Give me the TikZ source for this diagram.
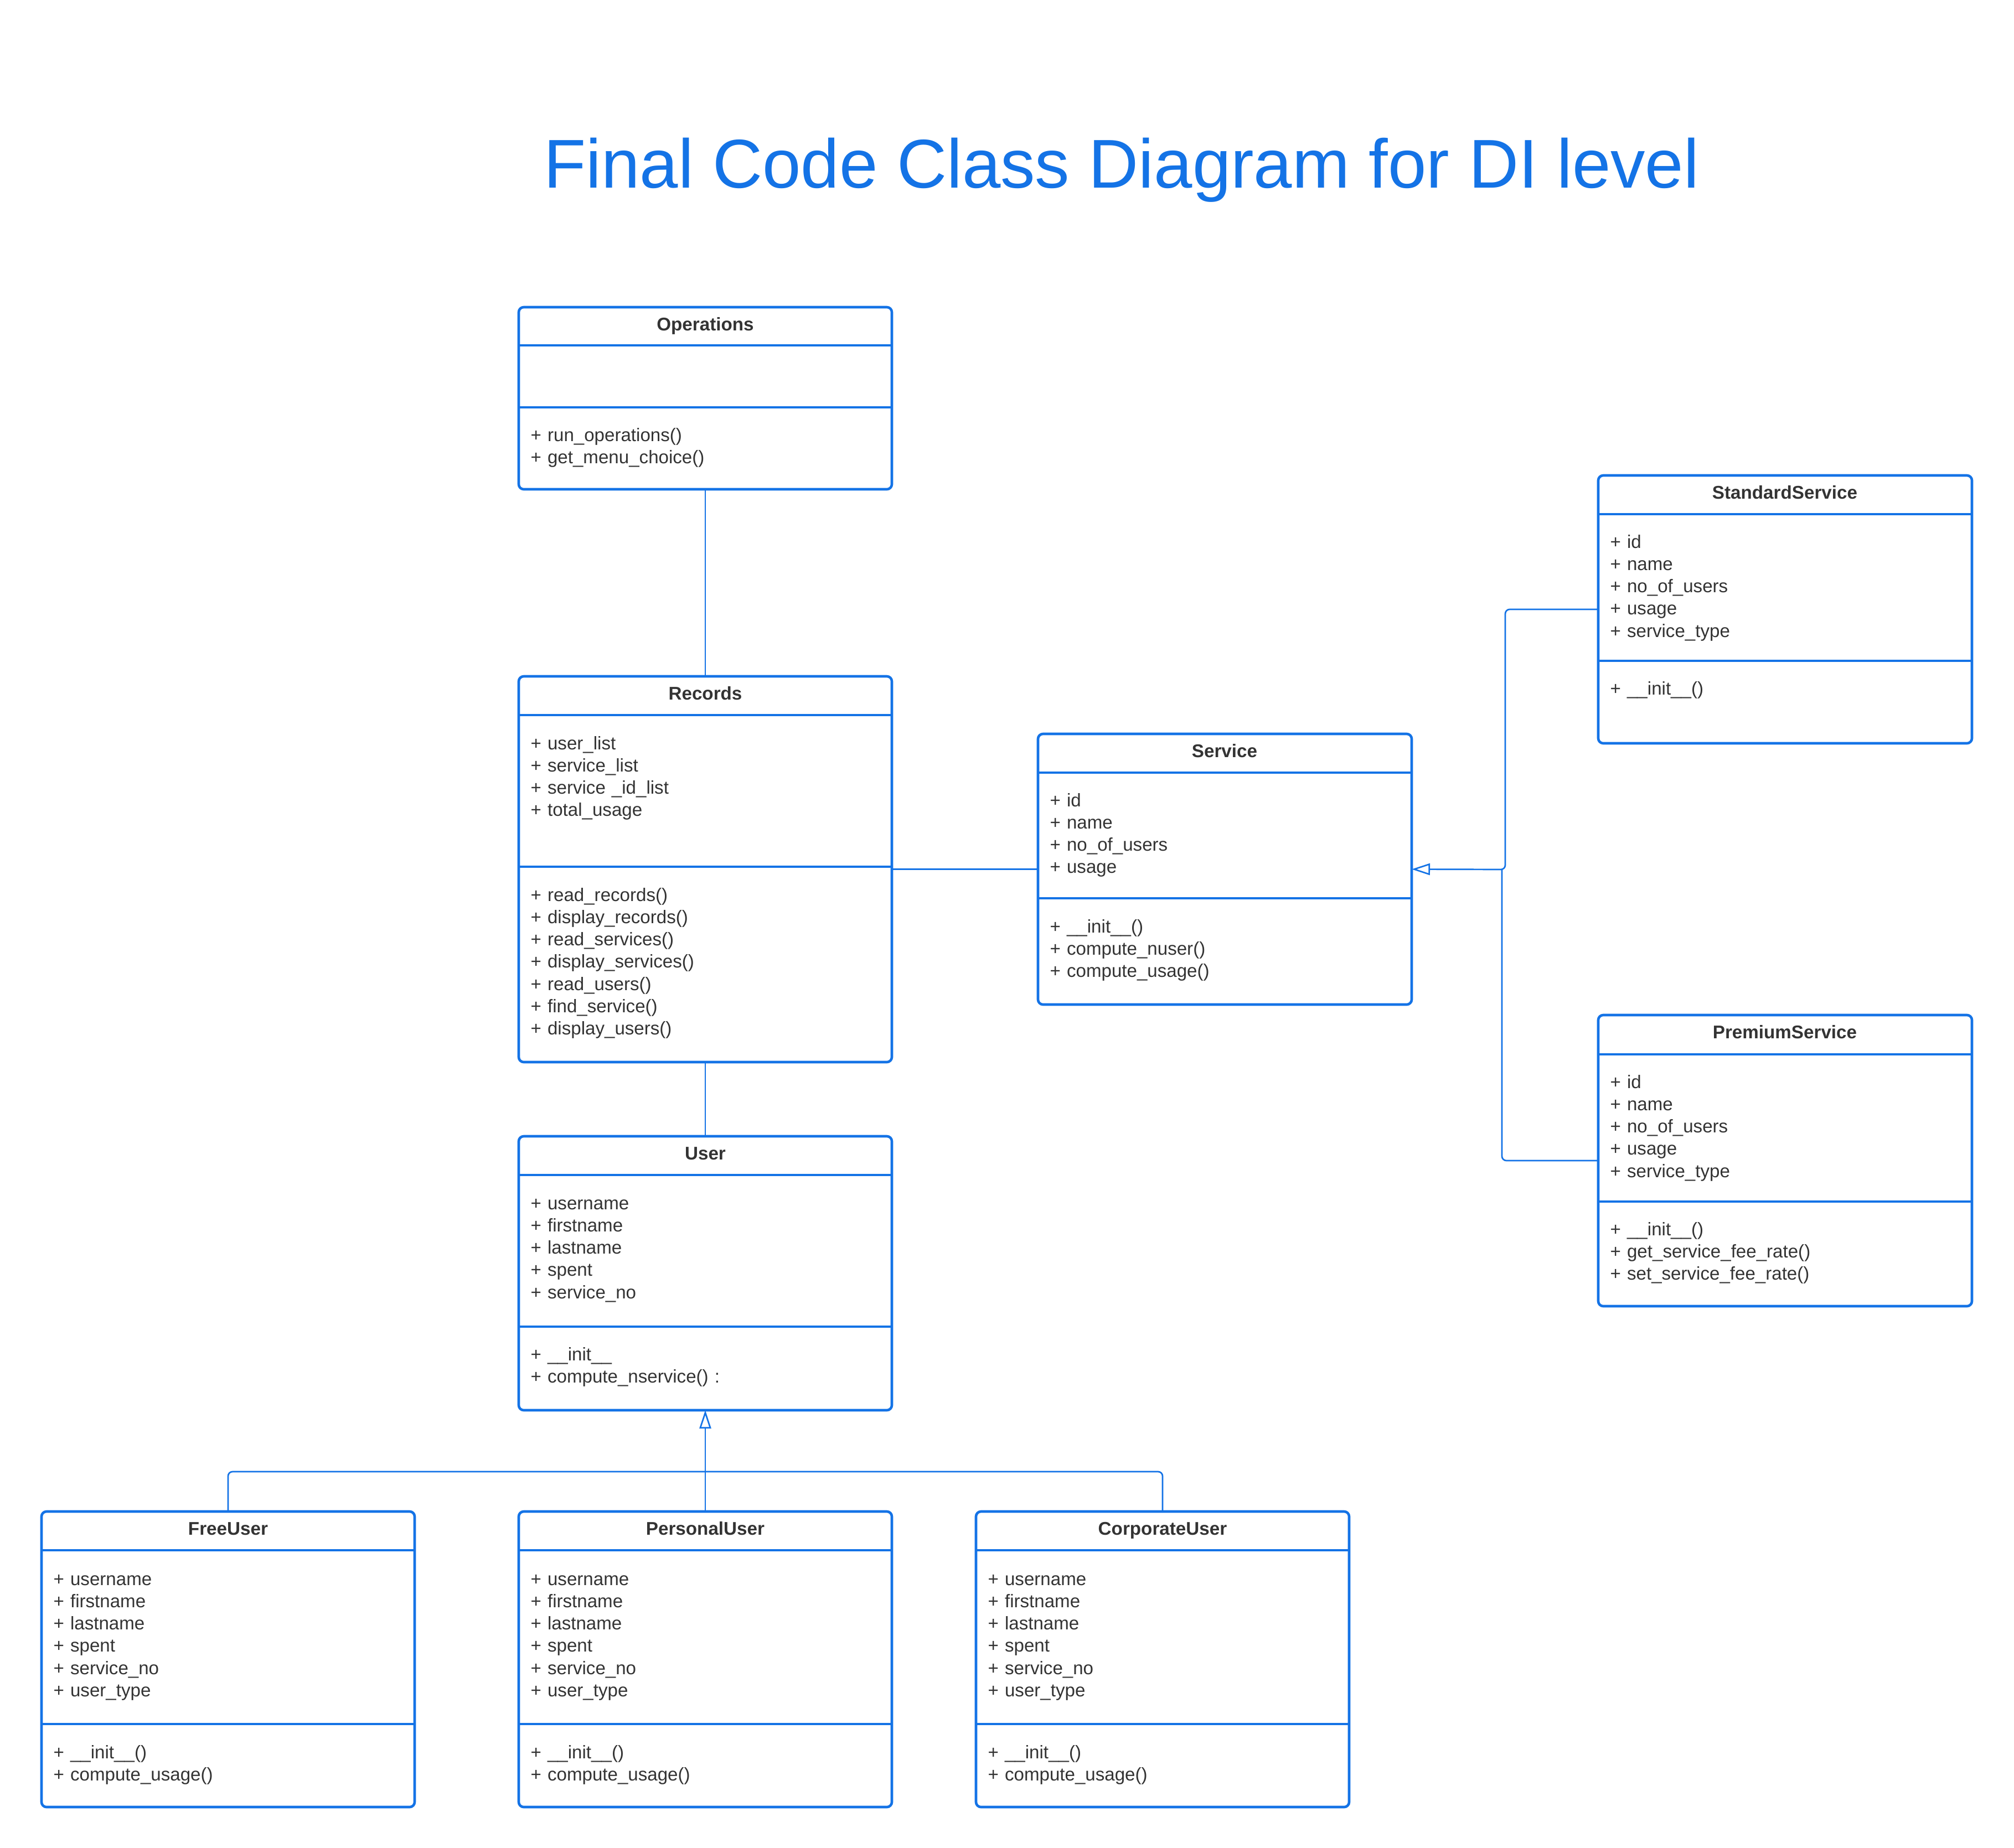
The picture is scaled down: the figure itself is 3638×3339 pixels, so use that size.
\documentclass[tikz,border=0pt]{standalone}
\usepackage{fontspec}
\setmainfont{Liberation Sans}
\usetikzlibrary{arrows.meta}
\definecolor{lucidblue}{RGB}{20,115,230}
\definecolor{txtgray}{RGB}{51,51,51}
\tikzset{
    classbox/.style={draw=lucidblue, line width=0.46mm, rounded corners=0.9mm, minimum width=67.4mm, outer sep=0pt, inner sep=0pt, anchor=north west},
    sepline/.style={draw=lucidblue, line width=0.46mm},
    classname/.style={anchor=base, inner sep=0pt, font=\fontsize{9.45}{11.5}\selectfont\bfseries, text=txtgray},
    members/.style={anchor=base west, inner sep=0pt, text width=60mm, align=left, font=\fontsize{9.42}{11.47}\selectfont, text=txtgray},
    link/.style={draw=lucidblue, line width=0.27mm, rounded corners=0.8mm},
    inherit/.style={link, -{Triangle[open, length=3.3mm, width=2.1mm, line width=0.27mm]}}
}

\begin{document}
\begin{tikzpicture}[x=0.1mm, y=-0.1mm]
\path[use as bounding box, fill=white] (0,0) rectangle (3638,3339);

\node[anchor=base, inner sep=0pt, font=\fontsize{35.5}{42}\selectfont, text=lucidblue] (title) at (2026,339) {Final Code Class Diagram for DI level};

% Operations
\node[classbox, minimum height=32.9mm] (ops) at (937,555) {};
\draw[sepline] (ops.west |- 0,624) -- (ops.east |- 0,624);
\draw[sepline] (ops.west |- 0,736) -- (ops.east |- 0,736);
\node[classname] (ops-t) at (1274,597) {Operations};
\node[members] (ops-m) at (958,797) {+ run\_operations()\\+ get\_menu\_choice()};

% Records
\node[classbox, minimum height=69.7mm] (rec) at (937,1222) {};
\draw[sepline] (rec.west |- 0,1292) -- (rec.east |- 0,1292);
\draw[sepline] (rec.west |- 0,1566) -- (rec.east |- 0,1566);
\node[classname] (rec-t) at (1274,1264) {Records};
\node[members] (rec-a) at (958,1354) {+ user\_list\\+ service\_list\\+ service \_id\_list\\+ total\_usage};
\node[members] (rec-m) at (958,1628) {+ read\_records()\\+ display\_records()\\+ read\_services()\\+ display\_services()\\+ read\_users()\\+ find\_service()\\+ display\_users()};

% User
\node[classbox, minimum height=49.5mm] (usr) at (937,2053) {};
\draw[sepline] (usr.west |- 0,2123) -- (usr.east |- 0,2123);
\draw[sepline] (usr.west |- 0,2397) -- (usr.east |- 0,2397);
\node[classname] (usr-t) at (1274,2095) {User};
\node[members] (usr-a) at (958,2185) {+ username\\+ firstname\\+ lastname\\+ spent\\+ service\_no};
\node[members] (usr-m) at (958,2458) {+ \_\_init\_\_\\+ compute\_nservice() :};

% Service
\node[classbox, minimum height=48.9mm, minimum width=67.5mm] (svc) at (1875,1326) {};
\draw[sepline] (svc.west |- 0,1396) -- (svc.east |- 0,1396);
\draw[sepline] (svc.west |- 0,1623) -- (svc.east |- 0,1623);
\node[classname] (svc-t) at (2212,1368) {Service};
\node[members] (svc-a) at (1896,1457) {+ id\\+ name\\+ no\_of\_users\\+ usage};
\node[members] (svc-m) at (1896,1685) {+ \_\_init\_\_()\\+ compute\_nuser()\\+ compute\_usage()};

% StandardService
\node[classbox, minimum height=48.4mm, minimum width=67.5mm] (std) at (2887,859) {};
\draw[sepline] (std.west |- 0,929) -- (std.east |- 0,929);
\draw[sepline] (std.west |- 0,1194) -- (std.east |- 0,1194);
\node[classname] (std-t) at (3224,901) {StandardService};
\node[members] (std-a) at (2908,990) {+ id\\+ name\\+ no\_of\_users\\+ usage\\+ service\_type};
\node[members] (std-m) at (2908,1255) {+ \_\_init\_\_()};

% PremiumService
\node[classbox, minimum height=52.6mm, minimum width=67.5mm] (prem) at (2887,1834) {};
\draw[sepline] (prem.west |- 0,1905) -- (prem.east |- 0,1905);
\draw[sepline] (prem.west |- 0,2171) -- (prem.east |- 0,2171);
\node[classname] (prem-t) at (3224,1876) {PremiumService};
\node[members] (prem-a) at (2908,1966) {+ id\\+ name\\+ no\_of\_users\\+ usage\\+ service\_type};
\node[members] (prem-m) at (2908,2232) {+ \_\_init\_\_()\\+ get\_service\_fee\_rate()\\+ set\_service\_fee\_rate()};

% FreeUser
\node[classbox, minimum height=53.4mm] (free) at (75,2731) {};
\draw[sepline] (free.west |- 0,2801) -- (free.east |- 0,2801);
\draw[sepline] (free.west |- 0,3115) -- (free.east |- 0,3115);
\node[classname] (free-t) at (412,2773) {FreeUser};
\node[members] (free-a) at (96,2864) {+ username\\+ firstname\\+ lastname\\+ spent\\+ service\_no\\+ user\_type};
\node[members] (free-m) at (96,3177) {+ \_\_init\_\_()\\+ compute\_usage()};

% PersonalUser
\node[classbox, minimum height=53.4mm] (pers) at (937,2731) {};
\draw[sepline] (pers.west |- 0,2801) -- (pers.east |- 0,2801);
\draw[sepline] (pers.west |- 0,3115) -- (pers.east |- 0,3115);
\node[classname] (pers-t) at (1274,2773) {PersonalUser};
\node[members] (pers-a) at (958,2864) {+ username\\+ firstname\\+ lastname\\+ spent\\+ service\_no\\+ user\_type};
\node[members] (pers-m) at (958,3177) {+ \_\_init\_\_()\\+ compute\_usage()};

% CorporateUser
\node[classbox, minimum height=53.4mm] (corp) at (1763,2731) {};
\draw[sepline] (corp.west |- 0,2801) -- (corp.east |- 0,2801);
\draw[sepline] (corp.west |- 0,3115) -- (corp.east |- 0,3115);
\node[classname] (corp-t) at (2100,2773) {CorporateUser};
\node[members] (corp-a) at (1784,2864) {+ username\\+ firstname\\+ lastname\\+ spent\\+ service\_no\\+ user\_type};
\node[members] (corp-m) at (1784,3177) {+ \_\_init\_\_()\\+ compute\_usage()};

% connectors
\coordinate (sj) at (2719,1571);
\coordinate (pj) at (2713,1571);
\coordinate (ubus) at (1274,2659);
\draw[link] (ops) -- (rec);
\draw[link] (rec) -- (svc);
\draw[link] (rec) -- (usr);
\draw[inherit] (std.west) -| (sj) -- (svc.east);
\draw[link] (prem.west) -| (pj);
\draw[link] (free.north) |- (ubus) -| (corp.north);
\draw[inherit] (pers) -- (usr);
\end{tikzpicture}
\end{document}
